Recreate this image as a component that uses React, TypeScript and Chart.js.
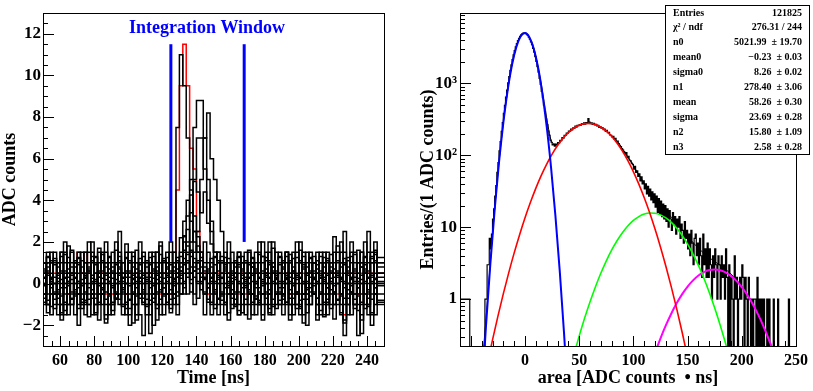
import React, { useEffect, useRef } from 'react';
import { Chart, registerables } from 'chart.js';

Chart.register(...registerables);

const SERIF = '"Liberation Serif", "Times New Roman", Times, serif';

// ---------------- Left panel: digitised waveforms ----------------
const TIME_MIN = 50;
const TIME_MAX = 250;
const TIME_BIN = 2; // ns per sample bin
const ADC_MIN = -3;
const ADC_MAX = 13;
const WINDOW_EDGES = [125, 168];
const WINDOW_LOW = 2;
const WINDOW_HIGH = 11.5;

const WAVE_A = [
  0.5, -0.5, 1.5, 0.5, -0.5, -1.5, 0.5, 1.5, 0.5, -0.5,
  -1.5, 0.5, 1.5, -0.5, 0.5, -0.5, -1.5, 0.5, 1.5, 0.5,
  -0.5, 0.5, -0.5, 1.5, 0.5, -1.5, -0.5, 0.5, 0.5, -0.5,
  1.5, -0.5, -1.5, 0.5, 1.5, 0.5, -0.5, -0.5, 0.5, 0.5,
  7.5, 11, 9.5, 7, 4.5, 2.5, 1.5, 0.5, -0.5, 0.5,
  -1.5, 0.5, 1.5, -0.5, 0.5, -0.5, 1.5, 0.5, -1.5, -0.5,
  0.5, 1.5, -0.5, 0.5, -0.5, -1.5, 0.5, 1.5, 0.5, -0.5,
  0.5, -0.5, 1.5, 0.5, -1.5, -0.5, 0.5, 1.5, -0.5, 0.5,
  -0.5, 0.5, -1.5, 0.5, 1.5, 0.5, -0.5, 0.5, -0.5, 1.5,
  0.5, -1.5, -0.5, 0.5, 1.5, 0.5, -0.5, -1.5, 0.5, 0.5,
];
const WAVE_B = [
  1, 0, -1, 0, 1, 1, -1, 0, 0, -1,
  0, 1, -1, 0, 2, 0, -1, 1, 0, -1,
  1, 0, 0, -1, 1, 0, -2, 0, 1, 1,
  0, -1, 1, 0, -1, 1, 0, 1, -1, 0,
  1, 0, 1, 2, 5, 7.5, 8.8, 8.8, 7, 5,
  3, 1.5, 0, -1, 1, 0, -1, 1, 0, 1,
  -1, 0, 1, 0, -1, 2, 0, -1, 1, 0,
  1, -1, 0, 1, 0, -1, 1, 0, -2, 0,
  1, 0, -1, 1, 0, 1, -1, 0, 1, -1,
  0, 1, 0, -1, 1, 2, -1, 0, 1, 0,
];
const WAVE_C = [
  -0.5, 0.5, 0.5, -1.5, -0.5, 0.5, 1.5, -0.5, -1.5, 0.5,
  0.5, -0.5, 0.5, 1.5, -0.5, -1.5, 0.5, -0.5, 0.5, 1.5,
  -0.5, -1.5, 0.5, 0.5, -0.5, 1.5, 0.5, -0.5, -1.5, 0.5,
  -0.5, 0.5, 1.5, -0.5, 0.5, -1.5, 0.5, -0.5, 1.5, -0.5,
  0.5, -0.5, 0.5, 1.5, 0.5, 1.5, 2.5, 5, 7, 8.2,
  6, 5, 4, 2.5, 1, 0.5, -0.5, 0.5, 1.5, -0.5,
  -1.5, 0.5, -0.5, 0.5, 1.5, -0.5, -0.5, 0.5, -1.5, 0.5,
  1.5, -0.5, 0.5, -0.5, 0.5, 1.5, -1.5, -0.5, 0.5, 0.5,
  -0.5, 1.5, 0.5, -1.5, -0.5, 0.5, 0.5, 1.5, -0.5, -2.5,
  0.5, -0.5, 1.5, 0.5, -0.5, 0.5, -1.5, 1.5, -0.5, 0.5,
];
const WAVE_D = [
  0, -1, 1, 0, 0, 1, -1, -1, 1, 0,
  1, 0, -1, 1, -1, 0, 1, 0, -1, 2,
  0, -1, 1, 0, -1, 0, 1, -1, 0, 1,
  -1, 0, 1, 1, 0, -1, 0, 1, 0, -1,
  0, 1, 0, 1, 2, 5, 7, 7, 5.5, 4,
  2.5, 1.5, 0, 1, -1, 0, 1, -1, 0, 1,
  0, -1, 1, 0, 2, -1, 0, 1, -1, 0,
  -1, 1, 0, 0, -1, 1, 2, 0, -1, 1,
  0, -1, 1, 0, -1, 0, 1, -1, 1, 0,
  -1, 0, 1, 0, -1, 1, 0, -2, 0, 1,
];
const WAVE_E = [
  1.5, 0.5, -0.5, -0.5, 1.5, 0.5, -1.5, 0.5, -0.5, 0.5,
  -0.5, 1.5, 0.5, -1.5, 0.5, 1.5, -0.5, 0.5, -0.5, -1.5,
  0.5, 1.5, -0.5, 0.5, -1.5, 0.5, 0.5, 1.5, -0.5, -0.5,
  0.5, -1.5, 0.5, 1.5, -0.5, 0.5, -0.5, 1.5, 0.5, -0.5,
  -1.5, 0.5, 1.5, -0.5, 0.5, -0.5, 0.5, 1.5, -1.5, 0.5,
  0.5, -0.5, 1.5, 0.5, -1.5, 0.5, -0.5, 0.5, 1.5, -0.5,
  0.5, -0.5, -1.5, 1.5, 0.5, -0.5, 0.5, -1.5, 0.5, 1.5,
  -0.5, 0.5, 0.5, -1.5, 1.5, -0.5, 0.5, -0.5, 1.5, 0.5,
  0.5, -1.5, -0.5, 1.5, 0.5, -0.5, 1.5, 0.5, -1.5, 0.5,
  -0.5, 1.5, 0.5, -0.5, -1.5, 0.5, 1.5, 0.5, -0.5, -0.5,
];
const WAVE_F = [
  -1, 0, 1, 0, -1, 0, 1, 2, 0, -1,
  0, -2, 0, 1, 0, 1, -1, 0, 1, 0,
  -1, 1, 2, 0, -1, 0, 0, 1, -1, 0,
  1, -1, 0, -2, 1, 0, 1, -1, 0, 1,
  -1, 0, 2, 1, 0, -1, 1, 0, 1, 0,
  1, 0, -1, 1, 0, 2, 0, -1, 1, -1,
  0, 1, -1, 0, 1, 0, -1, 2, 0, -1,
  0, 1, -1, 1, 0, -1, 0, 1, 0, -1,
  1, 0, 1, -1, 0, 1, -1, 0, 2, 1,
  -1, 0, -1, 1, 0, -1, 1, 0, -1, 1,
];
const WAVE_G = [
  0.5, -0.5, 0.5, 1.5, -0.5, -0.5, 0.5, -1.5, 0.5, 1.5,
  0.5, -0.5, -0.5, 0.5, 1.5, -0.5, 0.5, 1.5, -0.5, 0.5,
  -1.5, 0.5, -0.5, 2.5, 0.5, -0.5, 1.5, -0.5, 0.5, -1.5,
  -2.5, 0.5, 0.5, -0.5, 1.5, 0.5, -1.5, 0.5, -0.5, 1.5,
  0.5, 1.5, -0.5, 0.5, 1.5, 2.5, 1.5, 0.5, -0.5, 1.5,
  -0.5, 0.5, -1.5, 0.5, 1.5, -0.5, 0.5, -0.5, -1.5, 0.5,
  1.5, 0.5, -0.5, -1.5, 0.5, 0.5, 1.5, -0.5, 0.5, -0.5,
  0.5, -1.5, 1.5, 0.5, -0.5, 0.5, -0.5, -1.5, 0.5, 1.5,
  -0.5, 0.5, 1.5, -0.5, -1.5, 0.5, -0.5, 0.5, 1.5, 2.5,
  -1.5, 0.5, -0.5, -2.5, 1.5, 0.5, 2.5, -0.5, 1.5, 0.5,
];
const WAVE_H = [
  0, 1, -1, 1, 0, -1, 0, 1, -1, 1,
  1, -1, 0, -1, 1, 2, 0, -1, 0, 1,
  0, -1, 1, 1, 0, -1, 1, 0, -1, 2,
  0, 1, -1, 0, 0, 2, -1, 0, 1, 1,
  0, 1, 3, 4, 3, 2, 1, 0, 2, 1,
  0, -1, 1, 0, -1, 1, 0, 1, -1, 0,
  1, 0, 1, -1, -1, 1, 0, 0, 2, 0,
  -1, 0, 1, -1, 0, 2, -1, 0, 1, 0,
  1, -1, 0, 1, -1, 0, 0, 1, -1, 0,
  0, 2, -1, 0, 1, 0, -1, 1, 2, -1,
];
const WAVE_I = [
  -0.75, 0.25, 1.25, 0.25, -0.75, 0.25, -1.75, 0.25, 1.25, -0.75,
  0.25, 1.25, -0.75, 0.25, -0.75, 0.25, 1.25, -1.75, 0.25, -0.75,
  1.25, 0.25, -0.75, -0.75, 0.25, 1.25, -0.75, 0.25, -1.75, 0.25,
  0.25, -0.75, 1.25, 0.25, -1.75, -0.75, 0.25, 1.25, -0.75, 0.25,
  1.25, 0.25, 2.25, 3.25, 4.25, 3.25, 2.25, 1.25, 0.25, -0.75,
  0.25, 1.25, -0.75, 0.25, 1.25, -1.75, 0.25, -0.75, 1.25, 0.25,
  -0.75, 0.25, 1.25, -0.75, 0.25, -1.75, 1.25, 0.25, -0.75, 0.25,
  1.25, -0.75, 0.25, -1.75, 0.25, 1.25, 0.25, -0.75, -0.75, 1.25,
  0.25, -1.75, 0.25, 1.25, -0.75, 0.25, 2.25, -0.75, 0.25, -1.75,
  1.25, 0.25, -0.75, 0.25, -1.75, 1.25, 0.25, -0.75, 0.25, 1.25,
];
const WAVE_J = [
  0.3, -0.7, 1.3, 0.3, -1.2, 0.8, -0.2, 0.3, 1.8, -0.7,
  0.8, -0.2, -1.2, 0.3, 0.8, -0.7, 1.3, 0.3, -0.2, -1.7,
  0.3, 0.8, -0.7, 1.3, -0.2, 0.3, -1.2, 0.8, 0.3, -0.7,
  1.3, 0.3, -0.2, -0.7, 0.8, 1.8, -0.2, 0.3, -1.2, 0.8,
  0.3, 1.3, 2.3, 1.8, 0.8, 0.3, -0.7, 0.8, 0.3, -0.2,
  0.8, -1.2, 0.3, 1.3, -0.2, 0.3, -0.7, 0.8, 1.3, -0.2,
  0.3, -1.7, 0.8, -0.2, 0.3, 1.3, -0.7, 0.3, 0.8, -1.2,
  -0.2, 0.8, 1.3, 0.3, -0.7, 0.3, -1.2, 0.8, -0.2, 0.3,
  1.3, -0.7, 0.3, 0.8, -0.2, -1.2, 0.3, 1.8, 0.3, -0.7,
  0.8, 0.3, -1.2, -0.2, 0.8, 1.3, -0.7, 0.3, -0.2, 0.8,
];
const WAVE_K = [
  -0.4, 0.6, -1.4, 0.1, 1.1, -0.4, 0.6, -0.9, 0.1, 1.6,
  -0.4, 0.1, 1.1, -0.9, 0.6, 0.1, -1.4, 0.6, 1.1, -0.4,
  0.1, -0.9, 1.6, 0.1, -0.4, 0.6, 1.1, -1.9, 0.1, 0.6,
  -0.4, 1.1, 0.1, -0.9, 0.6, -0.4, 1.1, 0.1, -1.4, 0.6,
  1.1, 0.6, 1.6, 2.6, 1.6, 0.6, 1.1, 0.1, -0.4, 0.6,
  -0.9, 0.1, 1.1, -0.4, 0.6, -1.4, 0.1, 1.1, -0.4, 0.6,
  0.1, 1.6, -0.9, 0.1, -0.4, 0.6, 1.1, -1.4, 0.1, 0.6,
  -0.4, 0.1, -0.9, 1.1, 0.6, -0.4, 1.6, 0.1, -1.4, -0.4,
  0.6, 1.1, -0.4, 0.1, -0.9, 0.6, -0.4, 1.1, 0.1, -1.9,
  0.6, -0.4, 0.1, 1.6, -0.9, 0.1, 0.6, -1.4, 1.1, 0.1,
];
const WAVE_L = [
  0.9, -0.1, 0.4, -1.1, 0.9, 0.4, -0.6, 1.4, -0.1, 0.4,
  -0.6, 0.9, -0.1, 0.4, -1.6, 0.4, 0.9, -0.1, 1.4, 0.4,
  -0.6, -0.1, 0.9, 0.4, -1.1, 1.9, -0.1, 0.4, -0.6, 0.9,
  0.4, -1.1, 0.9, -0.1, 0.4, 1.4, -0.6, 0.4, 0.9, -0.1,
  -0.6, 0.4, 0.9, 1.4, 3.4, 4.9, 4.4, 3.4, 4.4, 2.9,
  1.9, 0.9, 0.4, -0.6, 0.9, -0.1, 0.4, -1.1, 0.9, 0.4,
  -0.1, 0.9, 0.4, -0.6, 1.4, -0.1, 0.4, 0.9, -1.1, 0.4,
  0.9, -0.6, 0.4, 1.4, -0.1, 0.4, -1.1, 0.9, 0.4, -0.6,
  -0.1, 0.9, 0.4, -1.6, 0.4, 1.4, -0.1, 0.4, -0.6, 0.9,
  0.4, -0.1, 1.4, -0.6, 0.4, 0.9, -1.1, 0.4, 1.4, -0.1,
];
const WAVE_M = [
  -1.2, 0.3, 0.8, -0.2, 0.3, -0.7, 1.3, -0.2, 0.3, 0.8,
  0.3, -1.2, 0.8, 0.3, -0.2, 1.3, -0.7, 0.3, -0.2, 0.8,
  1.3, -0.2, -0.7, 0.8, 0.3, -1.2, 0.3, 1.3, -0.2, 0.3,
  -0.7, 0.8, 0.3, 1.3, -1.2, 0.3, -0.2, 0.8, 0.3, -0.7,
  0.3, 0.8, -0.2, 0.3, 1.3, 0.8, 1.8, 0.3, 0.8, -0.2,
  0.3, 1.3, -0.7, 0.3, 0.8, -0.2, -1.2, 0.3, 0.8, 1.3,
  -0.2, 0.3, 0.8, -0.7, -0.2, 1.3, 0.3, -1.2, 0.8, 0.3,
  1.3, -0.2, 0.3, -0.7, 0.8, -1.2, 0.3, 1.3, 0.8, -0.2,
  0.3, -0.7, 1.3, 0.3, -0.2, 0.8, -1.7, 0.3, 0.8, -0.2,
  -0.7, 1.3, 0.3, -0.2, 0.8, -1.2, 0.3, 1.3, -0.2, 0.3,
];
const WAVE_N = [
  0.1, -0.9, 0.6, 1.1, -0.4, 0.1, -1.4, 0.6, 0.1, -0.4,
  1.1, 0.1, -0.9, -0.4, 0.6, 1.1, 0.1, -0.9, 0.6, -1.9,
  0.1, 0.6, -0.4, 1.1, 0.1, -0.9, 0.6, -0.4, 1.6, 0.1,
  -0.9, 0.1, -2.4, 0.6, -0.4, 0.1, 1.1, -0.9, 0.6, 0.1,
  -0.4, 0.6, 0.1, 1.1, -0.4, 0.6, 0.1, 1.1, 0.6, -0.9,
  0.1, -0.4, 0.6, 1.1, -0.9, 0.1, 0.6, -0.4, 0.1, -1.4,
  1.1, -0.4, 0.1, 0.6, -0.9, 0.1, -0.4, 1.1, 0.6, -0.4,
  0.1, 1.1, -0.9, 0.1, 0.6, -0.4, 1.1, -1.9, 0.1, 0.6,
  -0.4, 0.1, 0.6, -0.9, 1.1, 0.1, -0.4, 0.6, -1.4, 0.1,
  1.1, -0.4, 0.6, 0.1, -2.4, 0.6, -0.4, 0.1, 1.6, -0.9,
];
const WAVE_O = [
  -0.3, 0.7, -0.8, 0.2, 1.2, -0.3, 0.2, -1.3, 0.7, 0.2,
  -0.3, 1.2, 0.2, -0.8, 0.7, -0.3, 0.2, 1.7, -0.3, 0.2,
  0.7, -1.3, 0.2, 0.7, -0.3, 1.2, -0.8, 0.2, 0.7, 1.2,
  -0.3, 0.2, -0.8, 0.7, 0.2, -0.3, 1.2, 0.7, -0.3, 0.2,
  0.7, 2.2, 1.2, 0.7, 0.2, 1.2, 0.7, -0.3, 0.2, 0.7,
  1.2, -0.3, 0.2, -0.8, 0.7, 1.2, -0.3, 0.2, -1.3, 0.7,
  0.2, -0.3, 1.2, 0.7, -0.8, 0.2, 0.7, -0.3, 1.7, 0.2,
  -0.8, 0.7, 0.2, -0.3, 1.2, 0.2, -0.8, 0.7, -0.3, 1.2,
  0.2, 0.7, -1.3, 0.2, 1.2, -0.3, 0.7, -0.8, 0.2, 1.2,
  -0.3, 0.2, 0.7, -1.3, 0.2, 0.7, -0.3, 1.2, 0.2, -0.8,
];
const WAVE_P = [
  0.0, 0.5, -1.0, 1.0, 0.0, -0.5, 1.5, 0.0, -1.0, 0.5,
  1.0, -0.5, 0.0, 0.5, -1.0, 0.0, 1.0, 0.5, -0.5, 1.0,
  -1.0, 0.5, 0.0, -0.5, 1.0, 0.5, -1.5, 0.0, 1.0, -0.5,
  0.5, 1.0, -0.5, 0.0, -1.0, 1.0, 0.5, -0.5, 2.0, 0.0,
  0.5, -0.5, 1.0, 0.5, 1.5, 1.0, 0.0, 1.5, 0.5, 0.0,
  -1.0, 0.5, 1.0, -0.5, 0.0, 1.0, 0.5, -1.0, 0.5, 0.0,
  1.0, -0.5, 0.5, 1.0, -1.0, 0.0, 0.5, -0.5, 1.0, 0.5,
  -0.5, 0.0, 1.5, -1.0, 0.5, 0.0, 1.0, -0.5, 0.5, -1.0,
  1.0, 0.0, -0.5, 0.5, 1.0, -1.0, 0.5, 0.0, -0.5, 1.0,
  0.0, 0.5, -1.0, 1.0, 0.0, -0.5, 0.5, 1.0, -1.5, 0.0,
];
const WAVE_RED = [
  0.5, -0.5, 0.5, -0.5, 0.5, 0.5, -0.5, 0.5, -0.5, 0.5,
  -0.5, 1.5, 0.5, 1.5, 0.5, -0.5, 0.5, -0.5, 0.5, -0.5,
  0.5, -0.5, -0.5, 0.5, 0.5, -0.5, 0.5, -0.5, 0.5, -0.5,
  -0.5, 0.5, 0.5, -0.5, 0.5, -0.5, 0.5, 0.5, -0.5, 1.5,
  4.5, 9.5, 11.5, 9.5, 6.5, 5.5, 2.5, 1.5, 0.5, -0.5,
  0.5, -0.5, 0.5, 0.5, -0.5, 0.5, -0.5, 0.5, -0.5, 0.5,
  -0.5, 0.5, -0.5, 0.5, 0.5, -0.5, 0.5, -0.5, 0.5, -0.5,
  0.5, -0.5, 0.5, -0.5, 0.5, -0.5, 0.5, 0.5, -0.5, 0.5,
  -0.5, 0.5, -0.5, 0.5, -0.5, 0.5, 0.5, -0.5, 0.5, -1.5,
  0.5, -0.5, 0.5, -0.5, 0.5, -0.5, 0.5, 0.5, -0.5, 0.5,
];
const BLACK_WAVES = [
  WAVE_A, WAVE_B, WAVE_C, WAVE_D, WAVE_E, WAVE_F, WAVE_G, WAVE_H,
  WAVE_I, WAVE_J, WAVE_K, WAVE_L, WAVE_M, WAVE_N, WAVE_O, WAVE_P,
];

// ---------------- Right panel: pulse-area spectrum ----------------
const AREA_MIN = -60;
const AREA_MAX = 250;
const AREA_BIN = 1;
const COUNT_MIN = 0.222;
const COUNT_MAX = 9500;

const AREA_COUNTS = [
  1, 1, 1, 1, 1, 1, 1, 1, 1, 1,
  0, 0, 0, 0, 0, 0, 0, 0, 0, 0,
  0, 0, 0, 0, 1, 1, 3, 3, 7, 5,
  8, 13, 18, 27, 38, 58, 79, 115, 155, 216,
  285, 383, 495, 645, 810, 1020, 1250, 1525, 1815, 2155,
  2495, 2870, 3225, 3600, 3935, 4260, 4530, 4760, 4915, 5015,
  5030, 4985, 4850, 4675, 4420, 4135, 3800, 3460, 3085, 2730,
  2365, 2035, 1715, 1440, 1180, 972, 776, 635, 500, 408,
  322, 268, 218, 190, 163, 152, 140, 141, 134, 142,
  139, 150, 149, 162, 160, 176, 174, 189, 190, 203,
  204, 218, 215, 231, 226, 242, 237, 254, 247, 262,
  259, 268, 263, 276, 270, 283, 272, 285, 277, 325,
  290, 276, 284, 270, 279, 264, 270, 257, 262, 244,
  250, 238, 243, 227, 231, 216, 222, 206, 209, 193,
  190, 180, 183, 168, 172, 156, 158, 146, 138, 132,
  124, 118, 112, 104, 109, 93, 97, 86, 84, 78,
  75, 64, 70, 58, 61, 51, 55, 44, 50, 40,
  44, 34, 40, 29, 37, 27, 34, 24, 31, 22,
  29, 19, 27, 16, 25, 15, 23, 14, 21, 13,
  20, 12, 18, 10, 17, 13, 9, 16, 11, 14,
  8, 13, 10, 14, 7, 11, 9, 6, 12, 7,
  9, 5, 8, 4, 9, 6, 3, 7, 8, 4,
  6, 3, 7, 4, 2, 8, 3, 5, 2, 6,
  2, 5, 3, 1, 4, 2, 5, 3, 1, 4,
  3, 1, 4, 2, 3, 1, 5, 2, 0, 3,
  0, 2, 1, 0, 4, 1, 2, 0, 1, 2,
  1, 3, 2, 0, 2, 1, 0, 2, 1, 0,
  1, 0, 1, 1, 0, 2, 0, 1, 0, 1,
  0, 1, 0, 0, 1, 0, 1, 0, 0, 0,
  1, 0, 0, 0, 1, 0, 0, 0, 0, 0,
  0, 0, 0, 0, 1, 0, 0, 0, 0, 0,
];

const FIT0_X = [-40, -36, -32, -28, -24, -20, -16, -12, -8, -4, 0, 4, 8, 12, 16, 20, 24, 28, 32, 36, 40];
const FIT0_Y = [0.0464, 0.425, 3.08, 17.6, 80.0, 286, 811, 1820, 3226, 4528, 5020, 4406, 3056, 1679, 728, 250, 67.9, 14.6, 2.48, 0.333, 0.0354];

const FIT1_X = [-35, -30, -25, -20, -15, -10, -5, 0, 5, 10, 15, 20, 25, 30, 35, 40, 45, 50, 55, 60, 65, 70, 75, 80, 85, 90, 95, 100, 105, 110, 115, 120, 125, 130, 135, 140, 145, 150];
const FIT1_Y = [0.120, 0.270, 0.579, 1.188, 2.334, 4.385, 7.87, 13.54, 22.2, 34.97, 52.6, 75.6, 103.9, 136.7, 171.9, 206.9, 238.1, 262.0, 275.8, 277.6, 267.4, 246.2, 216.9, 182.7, 147.3, 113.5, 83.6, 58.97, 39.77, 25.6, 15.82, 9.33, 5.27, 2.84, 1.466, 0.724, 0.342, 0.154];

const FIT2_X = [45, 50, 55, 60, 65, 70, 75, 80, 85, 90, 95, 100, 105, 110, 115, 120, 125, 130, 135, 140, 145, 150, 155, 160, 165, 170, 175, 180, 185, 190];
const FIT2_Y = [0.166, 0.307, 0.543, 0.918, 1.485, 2.298, 3.402, 4.816, 6.52, 8.445, 10.46, 12.39, 14.04, 15.22, 15.77, 15.63, 14.83, 13.44, 11.66, 9.67, 7.67, 5.82, 4.225, 2.933, 1.947, 1.236, 0.751, 0.436, 0.242, 0.129];

const FIT3_X = [115, 120, 125, 130, 135, 140, 145, 150, 155, 160, 165, 170, 175, 180, 185, 190, 195, 200, 205, 210, 215, 220, 225, 230, 235];
const FIT3_Y = [0.107, 0.178, 0.284, 0.432, 0.630, 0.878, 1.171, 1.493, 1.820, 2.124, 2.370, 2.528, 2.580, 2.518, 2.351, 2.099, 1.792, 1.464, 1.144, 0.855, 0.611, 0.417, 0.273, 0.171, 0.102];

const FIT_TOTAL_X = [-40, -35, -30, -25, -20, -15, -10, -5, 0, 5, 10, 15, 20, 25, 30, 35, 40, 45, 50, 55, 60, 65, 70, 75, 80, 85, 90, 95, 100, 105, 110, 115, 120, 125, 130, 135, 140, 145, 150, 155, 160, 165, 170, 175, 180, 185, 190, 195, 200, 205, 210, 215, 220, 225, 230, 235, 240, 245, 250];
const FIT_TOTAL_Y = [0.097, 0.833, 7.85, 56.6, 287, 1017, 2499, 4259, 5034, 4132, 2368, 970, 326, 151, 142.9, 172.5, 207.0, 238.3, 262.3, 276.3, 278.5, 268.9, 248.5, 220.3, 187.5, 153.8, 122.0, 94.1, 71.4, 53.8, 40.9, 31.7, 25.1, 20.4, 16.7, 13.76, 11.27, 9.18, 7.47, 6.11, 5.09, 4.33, 3.76, 3.33, 2.95, 2.59, 2.23, 1.86, 1.50, 1.16, 0.86, 0.61, 0.42, 0.27, 0.17, 0.10, 0.058, 0.032, 0.017];

const STATS_LABELS = ['Entries', 'χ² / ndf', 'n0', 'mean0', 'sigma0', 'n1', 'mean', 'sigma', 'n2', 'n3'];
const STATS_VALUES = ['121825', '276.31 / 244', '5021.99  ± 19.70', '−0.23  ± 0.03', '8.26  ± 0.02', '278.40  ± 3.06', '58.26  ± 0.30', '23.69  ± 0.28', '15.80  ± 1.09', '2.58  ± 0.28'];

// ---------------- helpers ----------------
type Pt = { x: number; y: number };

function histPoints(values: number[], start: number, width: number, zeroAs?: number): Pt[] {
  const pts = values.map((v, i) => ({ x: start + i * width, y: zeroAs !== undefined && v <= 0 ? zeroAs : v }));
  pts.push({ x: start + values.length * width, y: pts[pts.length - 1].y });
  return pts;
}

function curvePoints(xs: number[], ys: number[]): Pt[] {
  return xs.map((x, i) => ({ x, y: ys[i] }));
}

type Tick = { v: number; major: boolean };

function linTicks(min: number, max: number, minor: number, majorEvery: number): Tick[] {
  const out: Tick[] = [];
  const n0 = Math.ceil(min / minor - 1e-9);
  const n1 = Math.floor(max / minor + 1e-9);
  for (let n = n0; n <= n1; n++) {
    const v = n * minor;
    const r = v / majorEvery;
    out.push({ v, major: Math.abs(r - Math.round(r)) < 1e-6 });
  }
  return out;
}

function logTicks(min: number, max: number): Tick[] {
  const out: Tick[] = [];
  for (let d = Math.floor(Math.log10(min)); d <= Math.ceil(Math.log10(max)); d++) {
    for (let k = 1; k <= 9; k++) {
      const v = k * Math.pow(10, d);
      if (v >= min && v <= max) out.push({ v, major: k === 1 });
    }
  }
  return out;
}

function fmtNum(v: number): string {
  return v < 0 ? '−' + Math.abs(v) : String(v);
}

const SUP: Record<number, string> = { 2: '²', 3: '³', 4: '⁴' };

function framePlugin(xTicks: Tick[], yTicks: Tick[], majorLen: number, minorLen: number) {
  return {
    id: 'rootFrame',
    afterDatasetsDraw(chart: any) {
      const { ctx, chartArea: a } = chart;
      const xs = chart.scales.x;
      const ys = chart.scales.y;
      ctx.save();
      ctx.strokeStyle = '#000';
      ctx.lineWidth = 1;
      ctx.beginPath();
      for (const t of xTicks) {
        const px = Math.round(xs.getPixelForValue(t.v)) + 0.5;
        if (px < a.left || px > a.right + 1) continue;
        const len = t.major ? majorLen : minorLen;
        ctx.moveTo(px, a.bottom);
        ctx.lineTo(px, a.bottom - len);
      }
      for (const t of yTicks) {
        const py = Math.round(ys.getPixelForValue(t.v)) + 0.5;
        if (py < a.top || py > a.bottom + 1) continue;
        const len = t.major ? majorLen + 1 : minorLen;
        ctx.moveTo(a.left, py);
        ctx.lineTo(a.left + len, py);
      }
      ctx.stroke();
      ctx.strokeRect(Math.round(a.left) + 0.5, Math.round(a.top) + 0.5, Math.round(a.right - a.left), Math.round(a.bottom - a.top));
      ctx.restore();
    },
  };
}

type TextItem = { text: string; x: number | 'center'; y: number | 'center'; font: string; color: string; align: CanvasTextAlign; rotate?: boolean };

function textPlugin(items: TextItem[], stats?: { left: number; top: number; right: number; bottom: number; labels: string[]; values: string[] }) {
  return {
    id: 'rootText',
    afterDraw(chart: any) {
      const { ctx, chartArea: a } = chart;
      ctx.save();
      for (const it of items) {
        const x = it.x === 'center' ? (a.left + a.right) / 2 : it.x;
        const y = it.y === 'center' ? (a.top + a.bottom) / 2 : it.y;
        ctx.font = it.font;
        ctx.fillStyle = it.color;
        ctx.textAlign = it.align;
        ctx.textBaseline = 'alphabetic';
        if (it.rotate) {
          ctx.save();
          ctx.translate(x, y);
          ctx.rotate(-Math.PI / 2);
          ctx.fillText(it.text, 0, 0);
          ctx.restore();
        } else {
          ctx.fillText(it.text, x, y);
        }
      }
      if (stats) {
        ctx.fillStyle = '#fff';
        ctx.fillRect(stats.left, stats.top, stats.right - stats.left, stats.bottom - stats.top);
        ctx.strokeStyle = '#000';
        ctx.lineWidth = 1;
        ctx.strokeRect(stats.left + 0.5, stats.top + 0.5, stats.right - stats.left, stats.bottom - stats.top);
        const rowH = (stats.bottom - stats.top) / stats.labels.length;
        ctx.font = `bold 10px ${SERIF}`;
        ctx.fillStyle = '#000';
        ctx.textBaseline = 'middle';
        stats.labels.forEach((lab, i) => {
          const cy = stats.top + rowH * (i + 0.5) + 0.5;
          ctx.textAlign = 'left';
          ctx.fillText(lab, stats.left + 8, cy);
          ctx.textAlign = 'right';
          ctx.fillText(stats.values[i], stats.right - 7, cy);
        });
      }
      ctx.restore();
    },
  };
}

function leftConfig(): any {
  const datasets: any[] = [];
  WINDOW_EDGES.forEach((t) => {
    datasets.push({
      data: [{ x: t, y: WINDOW_LOW }, { x: t, y: WINDOW_HIGH }],
      borderColor: '#0000ff',
      borderWidth: 3,
      borderCapStyle: 'butt',
      pointRadius: 0,
      fill: false,
    });
  });
  BLACK_WAVES.forEach((w) => {
    datasets.push({
      data: histPoints(w, TIME_MIN, TIME_BIN),
      stepped: 'after',
      borderColor: '#000',
      borderWidth: 1.5,
      pointRadius: 0,
      fill: false,
    });
  });
  datasets.push({
    data: histPoints(WAVE_RED, TIME_MIN, TIME_BIN),
    stepped: 'after',
    borderColor: '#ff0000',
    borderWidth: 1.5,
    pointRadius: 0,
    fill: false,
  });

  const tickFont = { family: SERIF, size: 16, weight: 'bold' as const };
  return {
    type: 'line',
    data: { datasets },
    options: {
      animation: false,
      responsive: false,
      devicePixelRatio: 1,
      layout: { padding: { top: 13, right: 21, left: 0, bottom: 0 } },
      plugins: { legend: { display: false }, tooltip: { enabled: false }, title: { display: false } },
      scales: {
        x: {
          type: 'linear',
          min: TIME_MIN,
          max: TIME_MAX,
          grid: { display: false, drawTicks: false },
          border: { display: false },
          ticks: {
            stepSize: 10,
            autoSkip: false,
            maxRotation: 0,
            padding: 5,
            color: '#000',
            font: tickFont,
            callback: (v: number) => (v % 20 === 0 ? fmtNum(v) : ''),
          },
          afterFit: (s: any) => { s.height = 45; },
        },
        y: {
          type: 'linear',
          min: ADC_MIN,
          max: ADC_MAX,
          grid: { display: false, drawTicks: false },
          border: { display: false },
          ticks: {
            stepSize: 1,
            autoSkip: false,
            padding: 2,
            color: '#000',
            font: { family: SERIF, size: 17, weight: 'bold' },
            callback: (v: number) => (v % 2 === 0 ? fmtNum(v) : ''),
          },
          afterFit: (s: any) => { s.width = 43; },
        },
      },
    },
    plugins: [
      framePlugin(linTicks(TIME_MIN, TIME_MAX, 5, 20), linTicks(ADC_MIN, ADC_MAX, 0.5, 2), 10, 5),
      textPlugin([
        { text: 'Integration Window', x: 207, y: 33, font: `bold 18px ${SERIF}`, color: '#0000ff', align: 'center' },
        { text: 'Time [ns]', x: 'center', y: 383, font: `bold 18px ${SERIF}`, color: '#000', align: 'center' },
        { text: 'ADC counts', x: 15, y: 'center', font: `bold 18px ${SERIF}`, color: '#000', align: 'center', rotate: true },
      ]),
    ],
  };
}

function rightConfig(): any {
  const curve = (xs: number[], ys: number[], color: string, width: number) => ({
    data: curvePoints(xs, ys),
    borderColor: color,
    borderWidth: width,
    pointRadius: 0,
    fill: false,
    cubicInterpolationMode: 'monotone',
  });
  const datasets: any[] = [
    curve(FIT0_X, FIT0_Y, '#0000ff', 2),
    curve(FIT1_X, FIT1_Y, '#ff0000', 1.6),
    curve(FIT2_X, FIT2_Y, '#00ff00', 1.6),
    curve(FIT3_X, FIT3_Y, '#ff00ff', 2),
    curve(FIT_TOTAL_X, FIT_TOTAL_Y, '#000', 1),
    {
      data: histPoints(AREA_COUNTS, AREA_MIN, AREA_BIN, COUNT_MIN / 10),
      stepped: 'after',
      borderColor: '#000',
      borderWidth: 1.2,
      pointRadius: 0,
      fill: false,
    },
  ];

  return {
    type: 'line',
    data: { datasets },
    options: {
      animation: false,
      responsive: false,
      devicePixelRatio: 1,
      layout: { padding: { top: 13, right: 15, left: 0, bottom: 0 } },
      plugins: { legend: { display: false }, tooltip: { enabled: false }, title: { display: false } },
      scales: {
        x: {
          type: 'linear',
          min: AREA_MIN,
          max: AREA_MAX,
          grid: { display: false, drawTicks: false },
          border: { display: false },
          ticks: {
            stepSize: 50,
            autoSkip: false,
            maxRotation: 0,
            padding: 5,
            color: '#000',
            font: { family: SERIF, size: 16, weight: 'bold' },
            callback: (v: number) => (v % 50 === 0 ? fmtNum(v) : ''),
          },
          afterFit: (s: any) => { s.height = 45; },
        },
        y: {
          type: 'logarithmic',
          min: COUNT_MIN,
          max: COUNT_MAX,
          grid: { display: false, drawTicks: false },
          border: { display: false },
          ticks: {
            autoSkip: false,
            padding: 3,
            color: '#000',
            font: { family: SERIF, size: 17, weight: 'bold' },
            callback: (v: number) => {
              const l = Math.log10(v);
              const r = Math.round(l);
              if (Math.abs(l - r) > 1e-6 || r < 0) return '';
              if (r === 0) return '1';
              if (r === 1) return '10';
              return '10' + (SUP[r] || '');
            },
          },
          afterFit: (s: any) => { s.width = 55; },
        },
      },
    },
    plugins: [
      framePlugin(linTicks(AREA_MIN, AREA_MAX, 10, 50), logTicks(COUNT_MIN, COUNT_MAX), 10, 5),
      textPlugin(
        [
          { text: 'area [ADC counts  • ns]', x: 'center', y: 383, font: `bold 18px ${SERIF}`, color: '#000', align: 'center' },
          { text: 'Entries/(1 ADC counts)', x: 28, y: 'center', font: `bold 18px ${SERIF}`, color: '#000', align: 'center', rotate: true },
        ],
        { left: 260, top: 5, right: 404, bottom: 154, labels: STATS_LABELS, values: STATS_VALUES }
      ),
    ],
  };
}

export default function App() {
  const leftRef = useRef<HTMLCanvasElement>(null);
  const rightRef = useRef<HTMLCanvasElement>(null);

  useEffect(() => {
    const c1 = new Chart(leftRef.current as HTMLCanvasElement, leftConfig());
    const c2 = new Chart(rightRef.current as HTMLCanvasElement, rightConfig());
    return () => {
      c1.destroy();
      c2.destroy();
    };
  }, []);

  return (
    <div style={{ position: 'fixed', left: 0, top: 0, width: 813, height: 391, background: '#fff' }}>
      <canvas ref={leftRef} width={405} height={391} style={{ position: 'absolute', left: 0, top: 0, width: 405, height: 391 }} />
      <canvas ref={rightRef} width={408} height={391} style={{ position: 'absolute', left: 405, top: 0, width: 408, height: 391 }} />
    </div>
  );
}
